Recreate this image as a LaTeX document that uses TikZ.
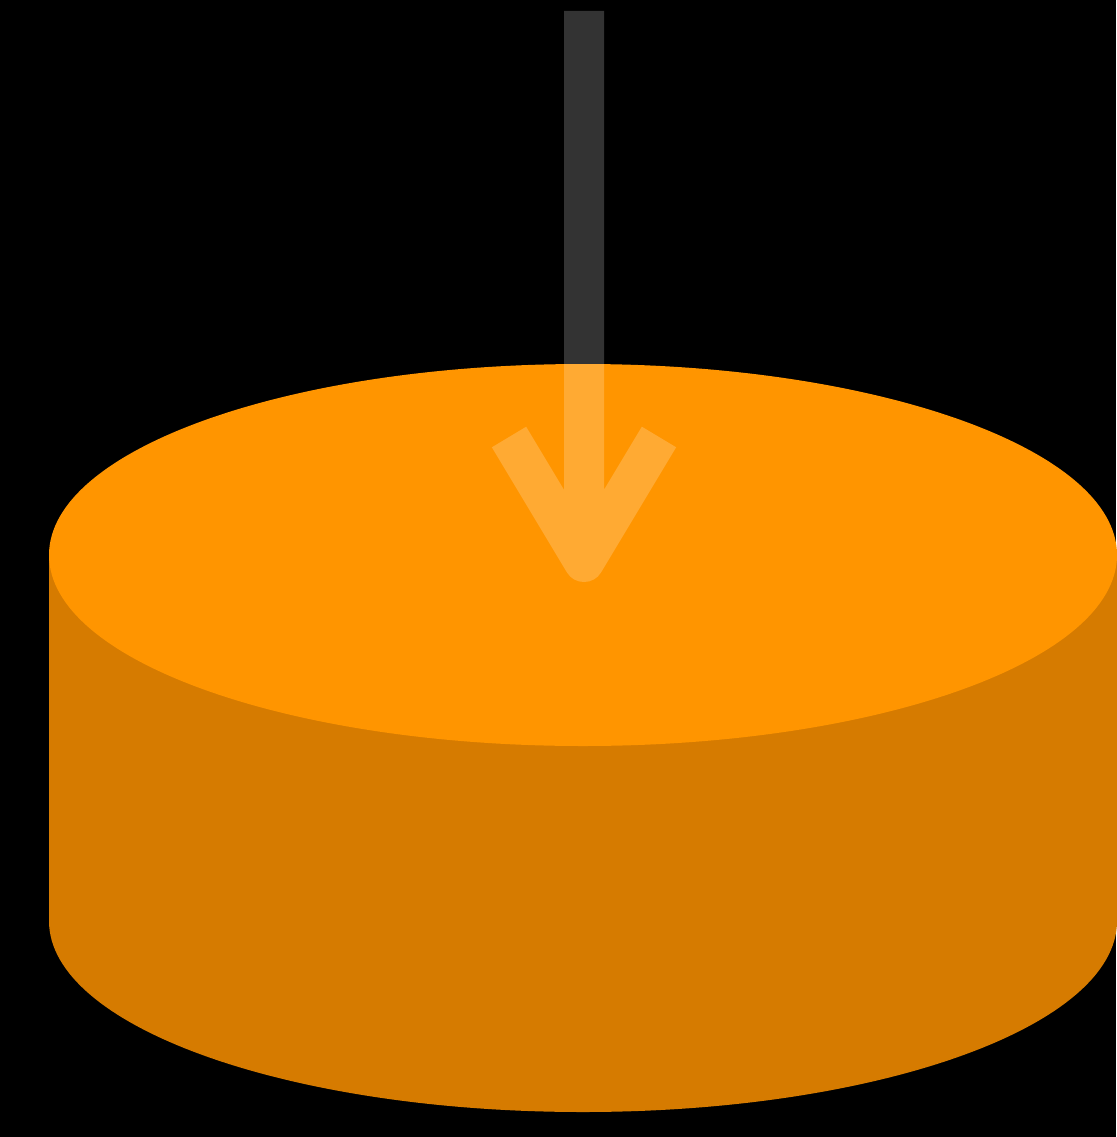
\documentclass[tikz,border=0pt]{standalone}
\begin{document}
\begin{tikzpicture}[x=1pt,y=-1pt,
  topface/.style={fill=topor},
  sideface/.style={fill=sideor},
  arrowline/.style={draw=white,draw opacity=0.2,line width=40pt,line cap=butt,line join=round}]
\definecolor{topor}{HTML}{FF9500}
\definecolor{sideor}{HTML}{D67B00}
\fill[black] (0,0) rectangle (1116,1137);
\useasboundingbox (0,0) rectangle (1116,1137);
% cylinder side
\path[sideface] (49,555) -- (49,921) arc[start angle=180,end angle=360,x radius=534,y radius=-191] -- (1117,555) -- cycle;
% top face
\path[topface] (583,555) ellipse[x radius=534,y radius=191];
% arrow
\coordinate (start) at (584,11);
\coordinate (tip) at (584,562);
\coordinate (la) at (509,437);
\coordinate (ra) at (659,437);
\draw[arrowline] (start) -- (tip) (la) -- (tip) -- (ra);
\end{tikzpicture}
\end{document}
